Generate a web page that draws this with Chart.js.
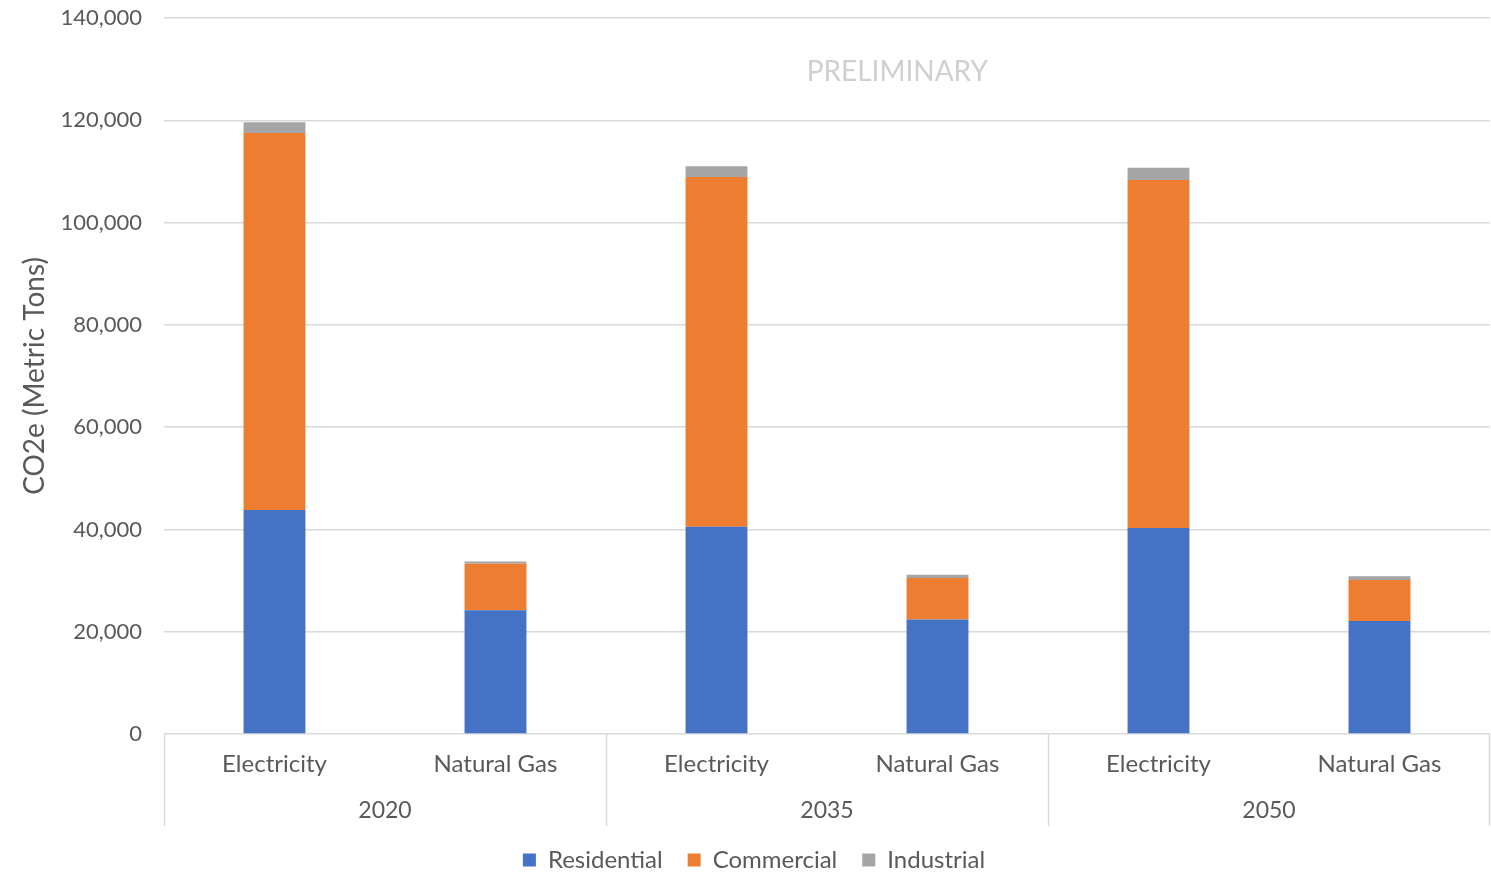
<!DOCTYPE html>
<html><head><meta charset="utf-8">
<script src="https://cdn.jsdelivr.net/npm/chart.js@4.4.1/dist/chart.umd.min.js"></script>
<style>html,body{margin:0;padding:0;background:#fff}#wrap{width:1491px;height:874px}</style>
</head><body><div id="wrap"><canvas id="c"></canvas></div>
<script>
const categories = ['Electricity','Natural Gas','Electricity','Natural Gas','Electricity','Natural Gas'];
const years = ['2020','2035','2050'];
const residential = [43800, 24200, 40500, 22400, 40300, 22100];
const commercial  = [73700,  9100, 68400,  8100, 68000,  8000];
const industrial  = [ 2100,   450,  2100,   650,  2400,   750];
const yTicks = [0,20000,40000,60000,80000,100000,120000,140000];

const FONT = 'Lato';
const GREY = '#595959';

const groupPlugin = {
  id: 'groups',
  afterDraw(chart) {
    const ctx = chart.ctx, a = chart.chartArea;
    const per = categories.length / years.length;
    const step = (a.right - a.left) / categories.length;
    ctx.save();
    ctx.strokeStyle = '#d9d9d9'; ctx.lineWidth = 1.5;
    for (let g = 0; g <= years.length; g++) {
      const px = Math.round(a.left + g * per * step) + (g === years.length ? -0.5 : 0.5);
      ctx.beginPath(); ctx.moveTo(px, a.bottom); ctx.lineTo(px, a.bottom + 92); ctx.stroke();
    }
    ctx.fillStyle = GREY; ctx.font = '23px ' + FONT; ctx.textAlign = 'center'; ctx.textBaseline = 'middle';
    years.forEach((y, g) => {
      ctx.fillText(y, a.left + (g + 0.5) * per * step, a.bottom + 77);
    });
    ctx.fillStyle = '#d0d0d0'; ctx.font = '28px ' + FONT;
    ctx.fillText('PRELIMINARY', a.left + 0.553 * (a.right - a.left), chart.scales.y.getPixelForValue(129500));
    ctx.restore();
  }
};

new Chart(document.getElementById('c'), {
  type: 'bar',
  data: {
    labels: categories,
    datasets: [
      {label: 'Residential', data: residential, backgroundColor: '#4472c4'},
      {label: 'Commercial', data: commercial, backgroundColor: '#ed7d31'},
      {label: 'Industrial', data: industrial, backgroundColor: '#a5a5a5'}
    ]
  },
  options: {
    responsive: true, maintainAspectRatio: false, animation: false,
    layout: {padding: {top: 18, right: 1, left: 18, bottom: -8}},
    datasets: {bar: {barPercentage: 0.28, categoryPercentage: 1}},
    plugins: {
      legend: {position: 'bottom', labels: {font: {family: FONT, size: 24}, color: GREY, boxWidth: 13, boxHeight: 13, padding: 25}},
      tooltip: {enabled: false}
    },
    scales: {
      x: {
        stacked: true,
        grid: {display: false}, border: {display: false},
        ticks: {font: {family: FONT, size: 24}, color: GREY, padding: 8, maxRotation: 0},
        afterFit(s) { s.height = 89; }
      },
      y: {
        stacked: true, min: 0, max: 140000,
        afterBuildTicks(s) { s.ticks = yTicks.map(v => ({value: v})); },
        afterFit(s) { s.width = 146; s.paddingTop = 0; s.paddingBottom = 0; },
        grid: {color: '#d9d9d9', lineWidth: 1.5, drawTicks: false},
        border: {display: false},
        ticks: {font: {family: FONT, size: 22}, color: GREY, padding: 22,
          callback: v => v.toLocaleString('en-US')},
        title: {display: true, text: 'CO2e (Metric Tons)', font: {family: FONT, size: 28}, color: GREY, padding: {top: 0, bottom: 0}}
      }
    }
  },
  plugins: [groupPlugin]
});
</script></body></html>
